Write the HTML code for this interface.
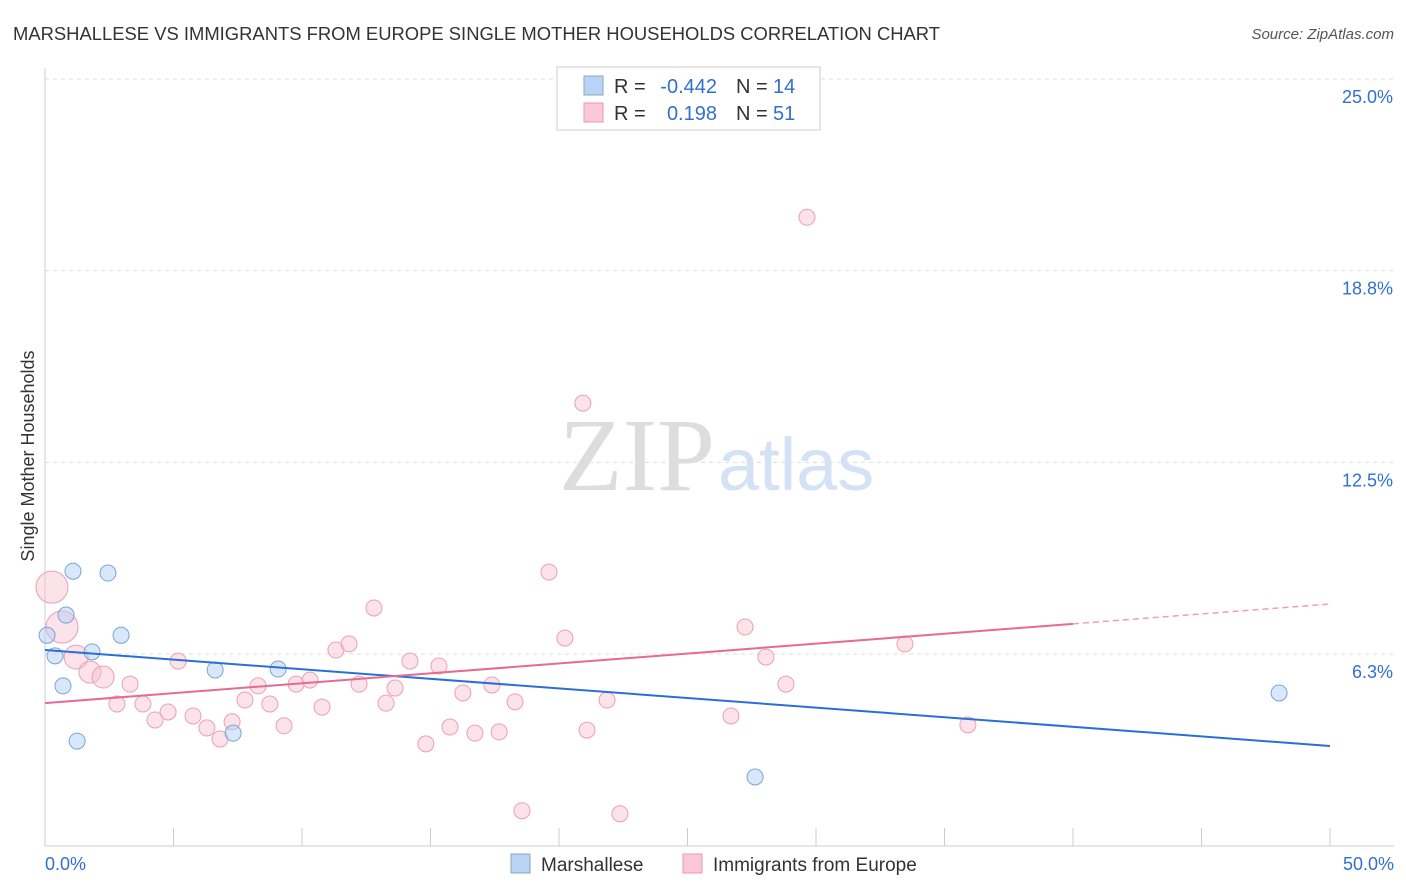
<!DOCTYPE html>
<html><head><meta charset="utf-8"><style>
body{margin:0;background:#fff;font-family:"Liberation Sans",sans-serif;}
</style></head><body>
<svg id="chart" width="1406" height="892" style="display:block">
<text x="13" y="40" font-size="18.4" fill="#333" textLength="927">MARSHALLESE VS IMMIGRANTS FROM EUROPE SINGLE MOTHER HOUSEHOLDS CORRELATION CHART</text>
<text x="1394" y="39" font-size="15" fill="#555" font-style="italic" text-anchor="end">Source: ZipAtlas.com</text>
<text x="715" y="490" font-size="104" fill="#ddd" text-anchor="end" font-family="Liberation Serif">ZIP</text>
<text x="718" y="490" font-size="74" fill="#d4e2f5">atlas</text>
<text transform="translate(34,456) rotate(-90)" font-size="18" fill="#333" text-anchor="middle">Single Mother Households</text>
<g id="grid"></g><g id="marks"></g>
<g>
<rect x="557" y="67" width="263" height="63" fill="#fff" stroke="#ccc"/>
<rect x="584" y="76" width="19" height="19" fill="#b8d3f5" stroke="#8ab"/>
<rect x="584" y="103" width="19" height="19" fill="#fac8d6" stroke="#e9a"/>
<text x="614" y="93" font-size="20" fill="#333">R =</text>
<text x="717" y="93" font-size="20" fill="#3070d0" text-anchor="end">-0.442</text>
<text x="736" y="93" font-size="20" fill="#333">N =</text>
<text x="773" y="93" font-size="20" fill="#3070d0">14</text>
<text x="614" y="120" font-size="20" fill="#333">R =</text>
<text x="717" y="120" font-size="20" fill="#3070d0" text-anchor="end">0.198</text>
<text x="736" y="120" font-size="20" fill="#333">N =</text>
<text x="773" y="120" font-size="20" fill="#3070d0">51</text>
</g>
<g>
<rect x="511" y="854" width="19" height="19" fill="#b8d3f5" stroke="#8ab"/>
<text x="541" y="871" font-size="19" fill="#333">Marshallese</text>
<rect x="683" y="854" width="19" height="19" fill="#fac8d6" stroke="#e9a"/>
<text x="713" y="871" font-size="19" fill="#333">Immigrants from Europe</text>
</g>
</svg>
<script>
const yTicks=[25.0,18.8,12.5,6.3];
const yTickVals=[25,18.75,12.5,6.25];
const xTickLabels=["0.0%","50.0%"];
const blueX=[0.08,0.39,0.70,0.82,1.09,1.25,1.83,2.45,2.96,6.62,7.32,9.07,27.63,48.02];
const blueY=[6.86,6.19,5.21,7.52,8.95,3.41,6.32,8.89,6.86,5.73,3.67,5.76,2.24,4.98];
const pinkX=[0.27,0.66,1.21,1.75,2.26,2.80,3.31,3.81,4.28,4.79,5.18,5.76,6.30,6.81,7.28,7.78,8.29,8.75,9.30,9.77,10.31,10.78,11.32,11.83,12.22,12.80,13.27,13.62,14.20,14.82,15.33,15.76,16.26,16.73,17.39,17.67,18.29,18.56,19.61,20.23,20.93,21.09,21.87,22.37,26.69,27.24,28.05,28.83,29.65,33.46,35.91];
const pinkY=[8.43,7.13,6.15,5.66,5.50,4.62,5.27,4.62,4.10,4.36,6.02,4.23,3.84,3.48,4.04,4.75,5.21,4.62,3.91,5.27,5.40,4.52,6.38,6.58,5.27,7.75,4.65,5.14,6.02,3.32,5.86,3.87,4.98,3.67,5.24,3.71,4.69,1.14,8.92,6.77,14.43,3.77,4.75,1.04,4.23,7.13,6.15,5.27,20.49,6.58,3.94];
const pinkR=[16,16,12,11,11];
const blueLine=[6.38,3.25];
const pinkLine=[4.65,7.88];
const pinkSolidEnd=40;
const NS="http://www.w3.org/2000/svg";
const X=v=>45+v/50*1285, Y=v=>845.7-v*30.67;
function mk(t,a,p){const e=document.createElementNS(NS,t);for(const k in a)e.setAttribute(k,a[k]);p.appendChild(e);return e;}
const g=document.getElementById('grid'),m=document.getElementById('marks');
yTickVals.forEach((v,i)=>{
 const l=mk('line',{x1:45,x2:1394,y1:Y(v),y2:Y(v),stroke:'#ddd','stroke-dasharray':'4,4'},g);
 
 
 const t=mk('text',{x:1393,y:Y(v)+24,'font-size':18,fill:'#3070d0','text-anchor':'end'},g);t.textContent=yTicks[i].toFixed(1)+'%';
 
 
});
mk('line',{x1:45,x2:45,y1:68,y2:846,stroke:'#ccc'},g);
mk('line',{x1:45,x2:1394,y1:846,y2:846,stroke:'#ccc'},g);
for(let i=0;i<=10;i++){const l=mk('line',{x1:X(i*5),x2:X(i*5),y1:828,y2:846,stroke:'#ccc'},g);
 
 }
[[0,45,'start'],[1,1394,'end']].forEach(([i,x,a])=>{const t=mk('text',{x:x,y:870,'font-size':18,fill:'#3070d0','text-anchor':a},g);t.textContent=xTickLabels[i];
 
 });
pinkX.forEach((x,i)=>{const c=mk('circle',{cx:X(x),cy:Y(pinkY[i]),r:pinkR[i]||8,fill:'rgba(248,190,207,0.45)',stroke:'#eaa0b8','stroke-width':1},m);
 
 });
blueX.forEach((x,i)=>{const c=mk('circle',{cx:X(x),cy:Y(blueY[i]),r:8,fill:'rgba(180,208,245,0.5)',stroke:'#7aa4d8','stroke-width':1},m);
 
 });
const pl=x=>pinkLine[0]+(pinkLine[1]-pinkLine[0])*x/50;
let l=mk('line',{x1:X(0),y1:Y(blueLine[0]),x2:X(50),y2:Y(blueLine[1]),stroke:'#2a6fd6','stroke-width':2},m);


l=mk('line',{x1:X(0),y1:Y(pl(0)),x2:X(pinkSolidEnd),y2:Y(pl(pinkSolidEnd)),stroke:'#e66a94','stroke-width':2},m);


l=mk('line',{x1:X(pinkSolidEnd),y1:Y(pl(pinkSolidEnd)),x2:X(50),y2:Y(pl(50)),stroke:'#eaa0b8','stroke-width':1.5,'stroke-dasharray':'6,4'},m);


</script>
</body></html>
